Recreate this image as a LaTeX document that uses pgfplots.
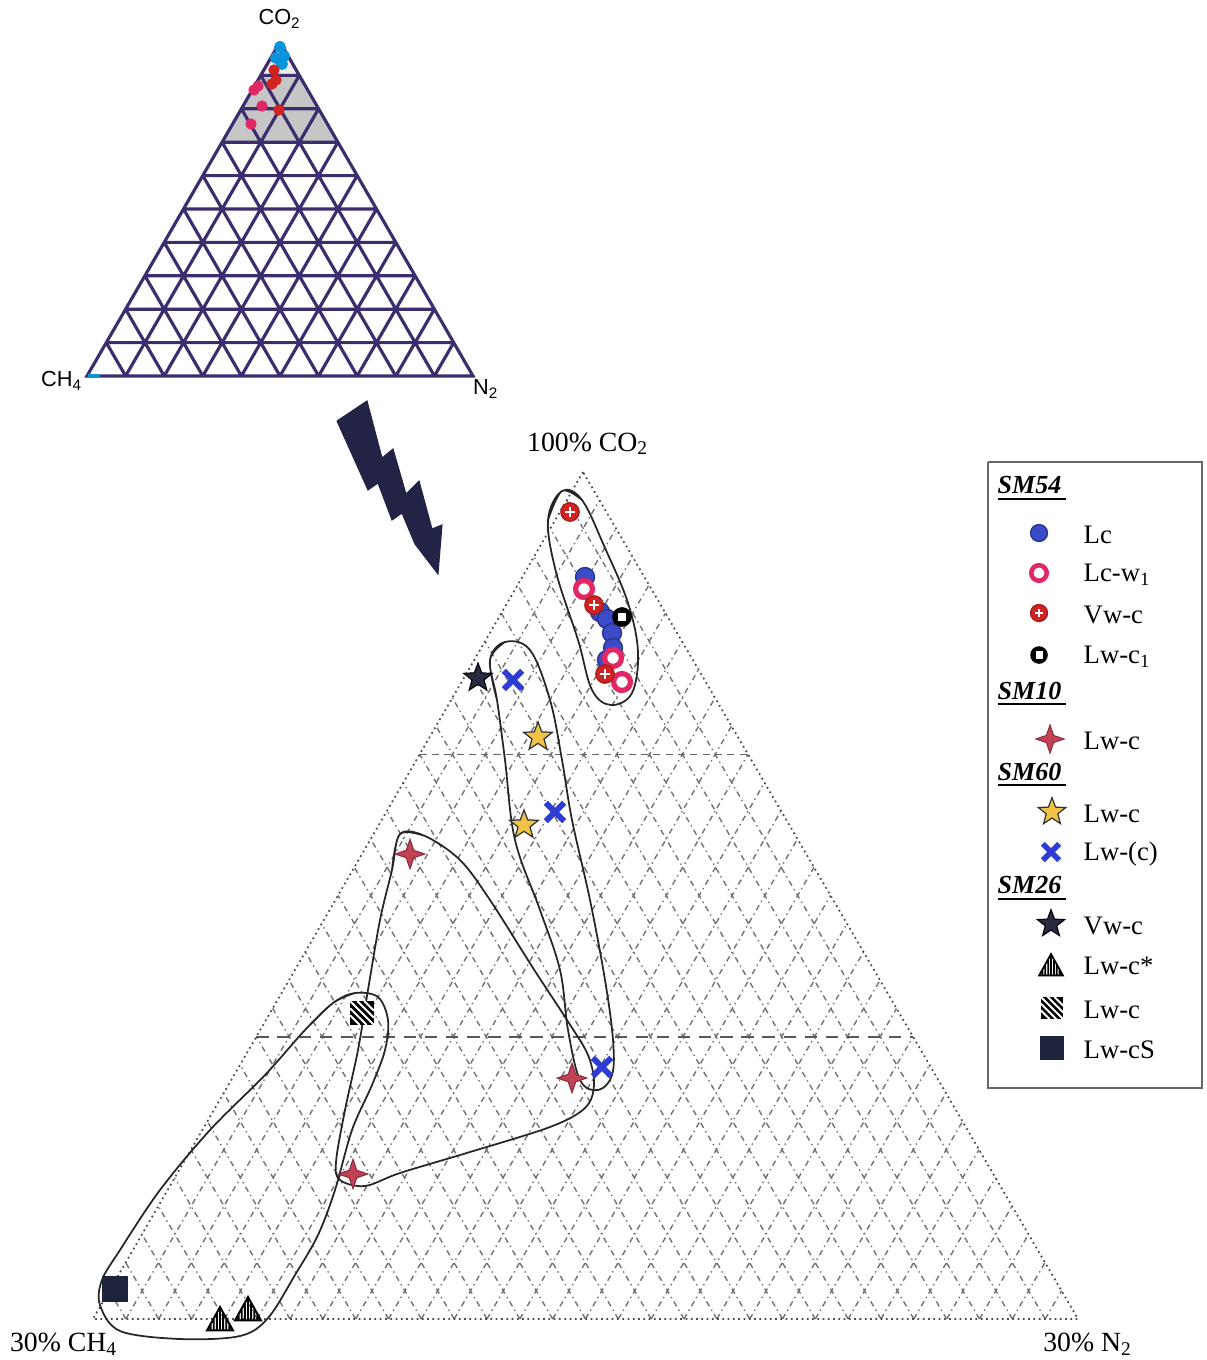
\documentclass[border=0pt]{standalone}
\usepackage{pgfplots}
\pgfplotsset{compat=1.18}
\usepackage{fontspec}
\setmainfont{Liberation Serif}
\newfontfamily\arialf{Liberation Sans}
\usetikzlibrary{plotmarks}

\definecolor{cLc}{RGB}{60,75,200}
\definecolor{cLcw}{RGB}{225,40,100}
\definecolor{cVw}{RGB}{210,35,35}
\definecolor{cTen}{RGB}{195,65,85}
\definecolor{cGold}{RGB}{240,195,70}
\definecolor{cX}{RGB}{45,60,210}
\definecolor{cNavy}{RGB}{40,42,65}
\definecolor{cSq}{RGB}{30,35,60}
\definecolor{cTri}{RGB}{60,45,110}
\definecolor{cBolt}{RGB}{35,35,70}

\pgfdeclareplotmark{starfive}{%
 \pgfpathmoveto{\pgfpointpolar{90}{\pgfplotmarksize}}%
 \pgfpathlineto{\pgfpointpolar{126}{0.42\pgfplotmarksize}}%
 \pgfpathlineto{\pgfpointpolar{162}{\pgfplotmarksize}}%
 \pgfpathlineto{\pgfpointpolar{198}{0.42\pgfplotmarksize}}%
 \pgfpathlineto{\pgfpointpolar{234}{\pgfplotmarksize}}%
 \pgfpathlineto{\pgfpointpolar{270}{0.42\pgfplotmarksize}}%
 \pgfpathlineto{\pgfpointpolar{306}{\pgfplotmarksize}}%
 \pgfpathlineto{\pgfpointpolar{342}{0.42\pgfplotmarksize}}%
 \pgfpathlineto{\pgfpointpolar{18}{\pgfplotmarksize}}%
 \pgfpathlineto{\pgfpointpolar{54}{0.42\pgfplotmarksize}}%
 \pgfpathclose\pgfusepathqfillstroke}
\pgfdeclareplotmark{starfour}{%
 \pgfpathmoveto{\pgfpointpolar{90}{\pgfplotmarksize}}%
 \pgfpathlineto{\pgfpointpolar{135}{0.36\pgfplotmarksize}}%
 \pgfpathlineto{\pgfpointpolar{180}{\pgfplotmarksize}}%
 \pgfpathlineto{\pgfpointpolar{225}{0.36\pgfplotmarksize}}%
 \pgfpathlineto{\pgfpointpolar{270}{\pgfplotmarksize}}%
 \pgfpathlineto{\pgfpointpolar{315}{0.36\pgfplotmarksize}}%
 \pgfpathlineto{\pgfpointpolar{0}{\pgfplotmarksize}}%
 \pgfpathlineto{\pgfpointpolar{45}{0.36\pgfplotmarksize}}%
 \pgfpathclose\pgfusepathqfillstroke}
\pgfdeclareplotmark{hatchsq}{%
 \pgfpathrectangle{\pgfpoint{-\pgfplotmarksize}{-\pgfplotmarksize}}{\pgfpoint{2\pgfplotmarksize}{2\pgfplotmarksize}}%
 \pgfusepathqfill
 \pgfscope
 \pgfsetstrokecolor{white}\pgfsetlinewidth{0.55pt}%
 \pgfpathmoveto{\pgfpoint{-\pgfplotmarksize}{\pgfplotmarksize}}\pgfpathlineto{\pgfpoint{\pgfplotmarksize}{-\pgfplotmarksize}}%
 \pgfpathmoveto{\pgfpoint{-0.4\pgfplotmarksize}{\pgfplotmarksize}}\pgfpathlineto{\pgfpoint{\pgfplotmarksize}{-0.4\pgfplotmarksize}}%
 \pgfpathmoveto{\pgfpoint{0.2\pgfplotmarksize}{\pgfplotmarksize}}\pgfpathlineto{\pgfpoint{\pgfplotmarksize}{0.2\pgfplotmarksize}}%
 \pgfpathmoveto{\pgfpoint{-\pgfplotmarksize}{0.4\pgfplotmarksize}}\pgfpathlineto{\pgfpoint{0.4\pgfplotmarksize}{-\pgfplotmarksize}}%
 \pgfpathmoveto{\pgfpoint{-\pgfplotmarksize}{-0.2\pgfplotmarksize}}\pgfpathlineto{\pgfpoint{-0.2\pgfplotmarksize}{-\pgfplotmarksize}}%
 \pgfusepathqstroke
 \endpgfscope}
\pgfdeclareplotmark{stritri}{%
 \pgfpathmoveto{\pgfpoint{-\pgfplotmarksize}{-0.8\pgfplotmarksize}}%
 \pgfpathlineto{\pgfpoint{0pt}{\pgfplotmarksize}}%
 \pgfpathlineto{\pgfpoint{\pgfplotmarksize}{-0.8\pgfplotmarksize}}%
 \pgfpathclose
 \pgfpathmoveto{\pgfpoint{0pt}{-0.8\pgfplotmarksize}}\pgfpathlineto{\pgfpoint{0pt}{\pgfplotmarksize}}%
 \pgfpathmoveto{\pgfpoint{-0.24\pgfplotmarksize}{-0.8\pgfplotmarksize}}\pgfpathlineto{\pgfpoint{-0.24\pgfplotmarksize}{0.568\pgfplotmarksize}}%
 \pgfpathmoveto{\pgfpoint{0.24\pgfplotmarksize}{-0.8\pgfplotmarksize}}\pgfpathlineto{\pgfpoint{0.24\pgfplotmarksize}{0.568\pgfplotmarksize}}%
 \pgfpathmoveto{\pgfpoint{-0.48\pgfplotmarksize}{-0.8\pgfplotmarksize}}\pgfpathlineto{\pgfpoint{-0.48\pgfplotmarksize}{0.136\pgfplotmarksize}}%
 \pgfpathmoveto{\pgfpoint{0.48\pgfplotmarksize}{-0.8\pgfplotmarksize}}\pgfpathlineto{\pgfpoint{0.48\pgfplotmarksize}{0.136\pgfplotmarksize}}%
 \pgfpathmoveto{\pgfpoint{-0.72\pgfplotmarksize}{-0.8\pgfplotmarksize}}\pgfpathlineto{\pgfpoint{-0.72\pgfplotmarksize}{-0.296\pgfplotmarksize}}%
 \pgfpathmoveto{\pgfpoint{0.72\pgfplotmarksize}{-0.8\pgfplotmarksize}}\pgfpathlineto{\pgfpoint{0.72\pgfplotmarksize}{-0.296\pgfplotmarksize}}%
 \pgfusepathqstroke}

\begin{document}
\begin{tikzpicture}[every node/.append style={inner sep=0pt}]
\begin{axis}[
  width=12.07cm, height=13.6cm, scale only axis,
  xmin=0, xmax=1207, ymin=0, ymax=1360, y dir=reverse,
  axis lines=none, clip=false, unbounded coords=jump,
  every axis plot/.append style={forget plot},
]
% bounding box
\addplot[draw=none, mark=none] coordinates {(0,0) (1207,1360)};

% ---------------- small triangle ----------------
\addplot[fill=gray!45, draw=none] coordinates {(280,42) (222.1,142.2) (337.9,142.2) (280,42)};
\addplot[fill=gray!15, draw=none] coordinates {(280,42) (260.7,75.4) (299.3,75.4) (280,42)};
\addplot[cTri, line width=0.9pt] coordinates {
(125.6,376) (299.3,75.4) (nan,nan) (164.2,376) (318.6,108.8) (nan,nan)
(202.8,376) (337.9,142.2) (nan,nan) (241.4,376) (357.2,175.6) (nan,nan)
(280,376) (376.5,209) (nan,nan) (318.6,376) (395.8,242.4) (nan,nan)
(357.2,376) (415.1,275.8) (nan,nan) (395.8,376) (434.4,309.2) (nan,nan)
(434.4,376) (453.7,342.6) (nan,nan)
(125.6,376) (106.3,342.6) (nan,nan) (164.2,376) (125.6,309.2) (nan,nan)
(202.8,376) (144.9,275.8) (nan,nan) (241.4,376) (164.2,242.4) (nan,nan)
(280,376) (183.5,209) (nan,nan) (318.6,376) (202.8,175.6) (nan,nan)
(357.2,376) (222.1,142.2) (nan,nan) (395.8,376) (241.4,108.8) (nan,nan)
(434.4,376) (260.7,75.4) (nan,nan)
(260.7,75.4) (299.3,75.4) (nan,nan) (241.4,108.8) (318.6,108.8) (nan,nan)
(222.1,142.2) (337.9,142.2) (nan,nan) (202.8,175.6) (357.2,175.6) (nan,nan)
(183.5,209) (376.5,209) (nan,nan) (164.2,242.4) (395.8,242.4) (nan,nan)
(144.9,275.8) (415.1,275.8) (nan,nan) (125.6,309.2) (434.4,309.2) (nan,nan)
(106.3,342.6) (453.7,342.6) (nan,nan)
(280,42) (87,376) (473,376) (280,42)};
\addplot[cyan!80!blue, line width=1.2pt] coordinates {(88,376) (100,376)};
\addplot[only marks, mark=*, mark size=1.5pt, cyan!80!blue] coordinates {(280,47) (284,56) (276,58) (282,64)};
\addplot[only marks, mark=*, mark size=1.4pt, cVw] coordinates {(274,70) (276,80) (272,84) (279,110)};
\addplot[only marks, mark=*, mark size=1.4pt, cLcw] coordinates {(258,86) (254,90) (262,106) (251,124)};
\node[font=\arialf\fontsize{6.2}{7}\selectfont] at (280,19) {CO\textsubscript{2}};
\node[font=\arialf\fontsize{6.2}{7}\selectfont] at (62,381) {CH\textsubscript{4}};
\node[font=\arialf\fontsize{6.2}{7}\selectfont] at (486,389) {N\textsubscript{2}};

% ---------------- lightning bolt ----------------
\addplot[fill=cBolt, draw=cBolt, line width=0.3pt] coordinates {
(337,421) (367,401) (382,458) (393,449) (406,494) (419,481)
(432,529) (442,525) (438,574) (415,544) (402,513) (392,520)
(378,483) (368,490) (337,421)};

% ---------------- main triangle grid ----------------
\addplot[black!55, line width=0.4pt, dash pattern=on 1.6pt off 1.1pt on 0.4pt off 1.1pt] coordinates {
(125.83,1319) (599.5,500.2) (nan,nan) (158.67,1319) (616,528.5) (nan,nan)
(191.5,1319) (632.5,556.7) (nan,nan) (224.33,1319) (649,584.9) (nan,nan)
(257.17,1319) (665.5,613.2) (nan,nan) (290,1319) (682,641.4) (nan,nan)
(322.83,1319) (698.5,669.6) (nan,nan) (355.67,1319) (715,697.9) (nan,nan)
(388.5,1319) (731.5,726.1) (nan,nan) (421.33,1319) (748,754.3) (nan,nan)
(454.17,1319) (764.5,782.6) (nan,nan) (487,1319) (781,810.8) (nan,nan)
(519.83,1319) (797.5,839) (nan,nan) (552.67,1319) (814,867.3) (nan,nan)
(585.5,1319) (830.5,895.5) (nan,nan) (618.33,1319) (847,923.7) (nan,nan)
(651.17,1319) (863.5,952) (nan,nan) (684,1319) (880,980.2) (nan,nan)
(716.83,1319) (896.5,1008.4) (nan,nan) (749.67,1319) (913,1036.7) (nan,nan)
(782.5,1319) (929.5,1064.9) (nan,nan) (815.33,1319) (946,1093.1) (nan,nan)
(848.17,1319) (962.5,1121.4) (nan,nan) (881,1319) (979,1149.6) (nan,nan)
(913.83,1319) (995.5,1177.8) (nan,nan) (946.67,1319) (1012,1206.1) (nan,nan)
(979.5,1319) (1028.5,1234.3) (nan,nan) (1012.33,1319) (1045,1262.5) (nan,nan)
(1045.17,1319) (1061.5,1290.8) (nan,nan)
(125.83,1319) (109.33,1290.8) (nan,nan) (158.67,1319) (125.67,1262.5) (nan,nan)
(191.5,1319) (142,1234.3) (nan,nan) (224.33,1319) (158.33,1206.1) (nan,nan)
(257.17,1319) (174.67,1177.8) (nan,nan) (290,1319) (191,1149.6) (nan,nan)
(322.83,1319) (207.33,1121.4) (nan,nan) (355.67,1319) (223.67,1093.1) (nan,nan)
(388.5,1319) (240,1064.9) (nan,nan) (421.33,1319) (256.33,1036.7) (nan,nan)
(454.17,1319) (272.67,1008.4) (nan,nan) (487,1319) (289,980.2) (nan,nan)
(519.83,1319) (305.33,952) (nan,nan) (552.67,1319) (321.67,923.7) (nan,nan)
(585.5,1319) (338,895.5) (nan,nan) (618.33,1319) (354.33,867.3) (nan,nan)
(651.17,1319) (370.67,839) (nan,nan) (684,1319) (387,810.8) (nan,nan)
(716.83,1319) (403.33,782.6) (nan,nan) (749.67,1319) (419.67,754.3) (nan,nan)
(782.5,1319) (436,726.1) (nan,nan) (815.33,1319) (452.33,697.9) (nan,nan)
(848.17,1319) (468.67,669.6) (nan,nan) (881,1319) (485,641.4) (nan,nan)
(913.83,1319) (501.33,613.2) (nan,nan) (946.67,1319) (517.67,584.9) (nan,nan)
(979.5,1319) (534,556.7) (nan,nan) (1012.33,1319) (550.33,528.5) (nan,nan)
(1045.17,1319) (566.67,500.2)};
\addplot[black!60, line width=0.4pt, dash pattern=on 2pt off 1.5pt] coordinates {(419.67,754.3) (748,754.3)};
\addplot[black!65, line width=0.45pt, dash pattern=on 3.5pt off 2.5pt] coordinates {(256.33,1036.7) (913,1036.7)};
\addplot[black!70, line width=0.5pt, densely dotted] coordinates {(583,472) (93,1319) (1078,1319) (583,472)};

\node[font=\fontsize{7.9}{9}\selectfont] at (588,444) {100\% CO\textsubscript{2}};
\node[font=\fontsize{7.9}{9}\selectfont] at (64,1344) {30\% CH\textsubscript{4}};
\node[font=\fontsize{7.9}{9}\selectfont] at (1088,1344) {30\% N\textsubscript{2}};

% ---------------- envelopes ----------------
\addplot[black!85, line width=0.5pt, smooth, tension=0.6] coordinates {
(548,520) (562,491) (582,500) (605,548) (628,603) (638,652) (632,693) (611,705) (592,690) (578,640) (556,572) (548,520) (562,491) (582,500)};
\addplot[black!85, line width=0.5pt, smooth, tension=0.6] coordinates {
(497,700) (490,660) (505,642) (530,650) (550,700) (562,760) (572,820) (590,900) (605,980) (613,1040) (612,1075) (598,1090) (580,1080) (568,1030) (560,970) (540,910) (515,840) (505,760) (497,700) (490,660) (505,642)};
\addplot[black!85, line width=0.5pt, smooth, tension=0.55] coordinates {
(392,870) (400,834) (425,836) (460,860) (490,900) (533,968) (567,1020) (588,1055) (594,1085) (585,1108) (550,1127) (470,1152) (400,1173) (365,1186) (340,1180) (336,1162) (345,1110) (358,1050) (368,990) (380,920) (392,870) (400,834) (425,836)};
\addplot[black!85, line width=0.5pt, smooth, tension=0.55] coordinates {
(305,1030) (333,1003) (355,993) (378,997) (388,1020) (385,1050) (372,1085) (352,1130) (335,1190) (318,1235) (295,1275) (268,1318) (240,1336) (180,1339) (120,1331) (100,1305) (102,1280) (120,1250) (160,1190) (210,1130) (265,1075) (305,1030) (333,1003) (355,993)};

% ---------------- data: SM54 ----------------
\addplot[only marks, mark=*, mark size=2.7pt, mark options={fill=cLc, draw=cLc!70!black}] coordinates {
(585,577) (600,612) (607,619) (612,633) (613,648) (607,660)};
\addplot[only marks, mark=*, mark size=2.4pt, mark options={fill=white, draw=cLcw, line width=1.5pt}] coordinates {
(584,589) (613,658) (622,682)};
\addplot[only marks, mark=*, mark size=2.6pt, mark options={fill=cVw, draw=cVw!80!black}] coordinates {
(570,512) (594,605) (605,674)};
\addplot[only marks, mark=+, mark size=1.3pt, mark options={white, line width=0.7pt}] coordinates {
(570,512) (594,605) (605,674)};
\addplot[only marks, mark=*, mark size=2.6pt, mark options={fill=black, draw=black}] coordinates {(622,617)};
\addplot[only marks, mark=square*, mark size=0.9pt, mark options={fill=white, draw=white}] coordinates {(622,617)};

% ---------------- SM10 ----------------
\addplot[only marks, mark=starfour, mark size=4.2pt, mark options={fill=cTen, draw=cTen!70!black, line width=0.3pt}] coordinates {
(410,854) (572,1078) (353,1174)};
% ---------------- SM60 ----------------
\addplot[only marks, mark=starfive, mark size=4.3pt, mark options={fill=cGold, draw=black!80, line width=0.35pt}] coordinates {
(538,737) (524,825)};
\addplot[only marks, mark=x, mark size=3.7pt, mark options={draw=cX, line width=1.7pt}] coordinates {
(513,680) (555,812) (602,1067)};
% ---------------- SM26 ----------------
\addplot[only marks, mark=starfive, mark size=4.3pt, mark options={fill=cNavy, draw=black, line width=0.3pt}] coordinates {(478,678)};
\addplot[only marks, mark=stritri, mark size=3.7pt, mark options={draw=black, line width=0.55pt}] coordinates {(220,1320) (248,1310)};
\addplot[only marks, mark=hatchsq, mark size=3.4pt, mark options={fill=black}] coordinates {(362,1013)};
\addplot[only marks, mark=square*, mark size=3.4pt, mark options={fill=cSq, draw=cSq}] coordinates {(115,1289)};

% ---------------- legend ----------------
\addplot[black!60, line width=0.5pt] coordinates {(988,462) (1202,462) (1202,1088) (988,1088) (988,462)};
\addplot[only marks, mark=*, mark size=2.4pt, mark options={fill=cLc, draw=cLc!70!black}] coordinates {(1039,533)};
\addplot[only marks, mark=*, mark size=2.2pt, mark options={fill=white, draw=cLcw, line width=1.3pt}] coordinates {(1039,573)};
\addplot[only marks, mark=*, mark size=2.4pt, mark options={fill=cVw, draw=cVw!80!black}] coordinates {(1039,613)};
\addplot[only marks, mark=+, mark size=1.2pt, mark options={white, line width=0.6pt}] coordinates {(1039,613)};
\addplot[only marks, mark=*, mark size=2.3pt, mark options={fill=black, draw=black}] coordinates {(1039,655)};
\addplot[only marks, mark=square*, mark size=0.8pt, mark options={fill=white, draw=white}] coordinates {(1039,655)};
\addplot[only marks, mark=starfour, mark size=4pt, mark options={fill=cTen, draw=cTen!70!black, line width=0.3pt}] coordinates {(1050,739)};
\addplot[only marks, mark=starfive, mark size=4.1pt, mark options={fill=cGold, draw=black!80, line width=0.35pt}] coordinates {(1052,812)};
\addplot[only marks, mark=x, mark size=3.3pt, mark options={draw=cX, line width=1.6pt}] coordinates {(1051,852)};
\addplot[only marks, mark=starfive, mark size=4.1pt, mark options={fill=cNavy, draw=black, line width=0.3pt}] coordinates {(1051,924)};
\addplot[only marks, mark=stritri, mark size=3.4pt, mark options={draw=black, line width=0.5pt}] coordinates {(1051,966)};
\addplot[only marks, mark=hatchsq, mark size=3.2pt, mark options={fill=black}] coordinates {(1052,1008)};
\addplot[only marks, mark=square*, mark size=3.2pt, mark options={fill=cSq, draw=cSq}] coordinates {(1052,1048)};

\begin{scope}[every node/.style={anchor=west, font=\fontsize{7.6}{9}\selectfont, inner sep=0pt}]
\node at (1083,535) {Lc};
\node at (1083,575) {Lc-w\textsubscript{1}};
\node at (1083,615) {Vw-c};
\node at (1083,657) {Lw-c\textsubscript{1}};
\node at (1083,741) {Lw-c};
\node at (1083,814) {Lw-c};
\node at (1083,854) {Lw-(c)};
\node at (1083,926) {Vw-c};
\node at (1083,966) {Lw-c*};
\node at (1083,1010) {Lw-c};
\node at (1083,1050) {Lw-cS};
\end{scope}
\begin{scope}[every node/.style={anchor=west, font=\fontsize{7.4}{9}\selectfont\bfseries\itshape, inner sep=0pt}]
\node at (997,489) {\underline{SM54\,}};
\node at (997,694) {\underline{SM10\,}};
\node at (997,775) {\underline{SM60\,}};
\node at (997,889) {\underline{SM26\,}};
\end{scope}
\end{axis}
\end{tikzpicture}
\end{document}
